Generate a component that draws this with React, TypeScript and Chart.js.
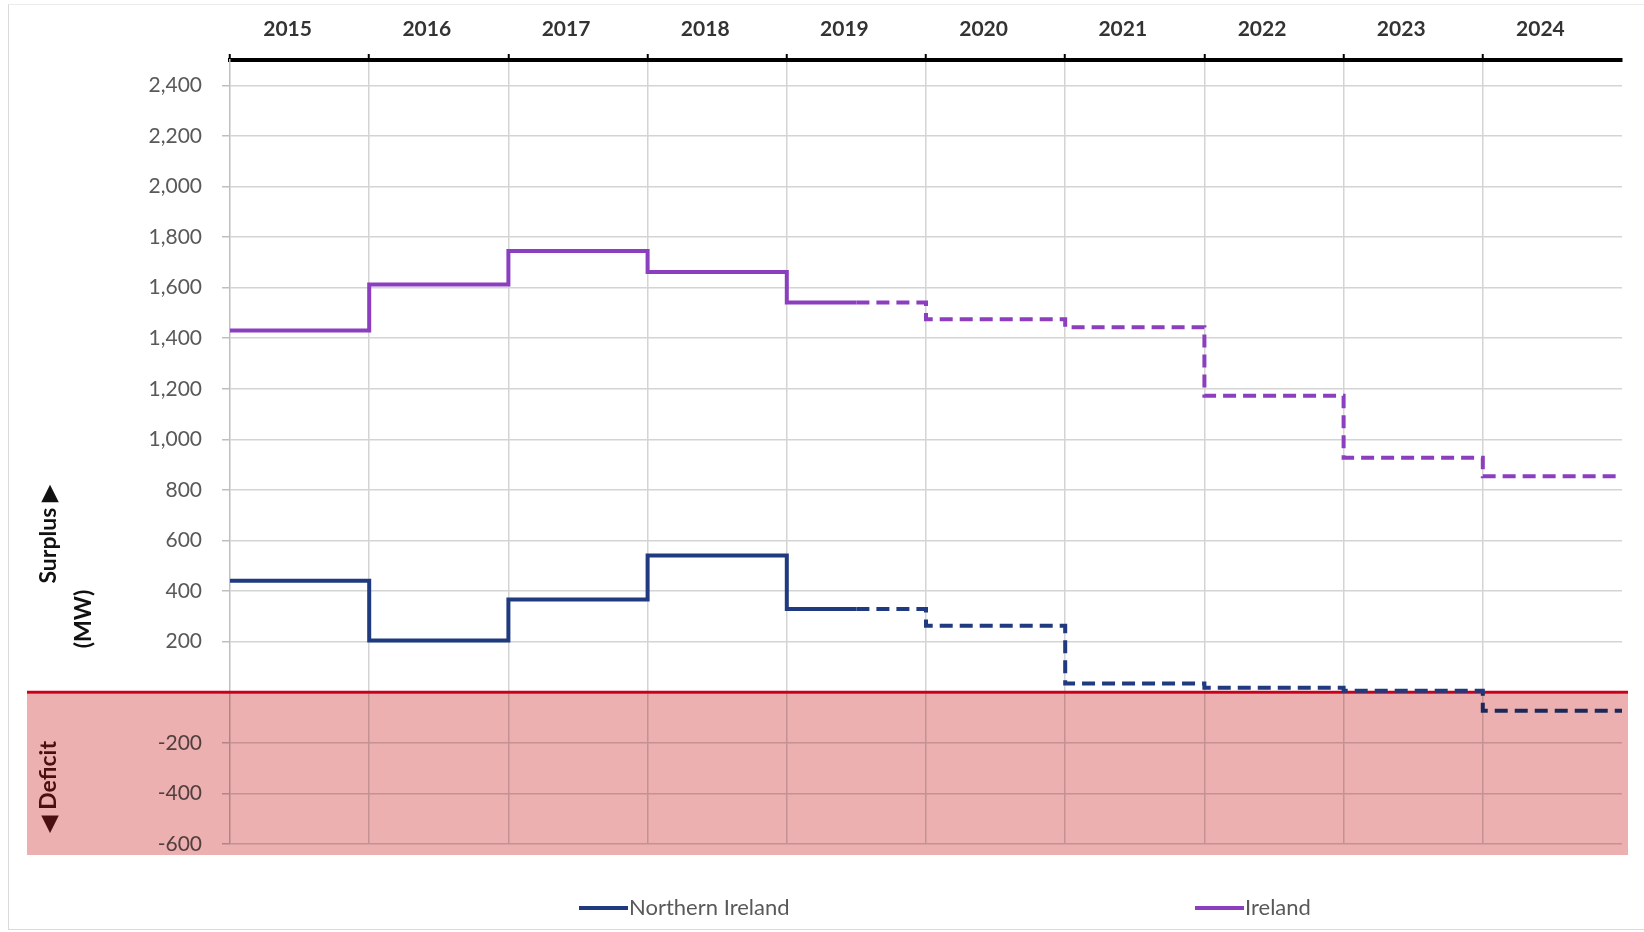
import React, { useEffect, useRef } from 'react';
import { Chart, registerables } from 'chart.js';

Chart.register(...registerables);

// ---- Data ----
const years = ['2015', '2016', '2017', '2018', '2019', '2020', '2021', '2022', '2023', '2024'];
const northernIrelandValues = [441, 205, 367, 541, 329, 263, 35, 18, 6, -73];
const irelandValues = [1430, 1612, 1745, 1662, 1541, 1475, 1443, 1172, 927, 854];
const seriesNames = ['Northern Ireland', 'Ireland'];
const forecastStart = 4.5; // forecast (dashed) from the middle of 2019
const yTickValues = [-600, -400, -200, 0, 200, 400, 600, 800, 1000, 1200, 1400, 1600, 1800, 2000, 2200, 2400];
const yMin = -600;
const yMax = 2500;

const FONT = 'Lato, "Open Sans", "DejaVu Sans", sans-serif';
const NI_COLOR = '#1f3a7f';
const IE_COLOR = '#8b3fbf';

function stepPoints(values: number[]) {
  const pts: { x: number; y: number }[] = [];
  values.forEach((v, i) => {
    pts.push({ x: i, y: v });
    if (i === Math.floor(forecastStart)) pts.push({ x: forecastStart, y: v });
  });
  pts.push({ x: values.length, y: values[values.length - 1] });
  return pts;
}

const deficitPlugin = {
  id: 'deficitZone',
  beforeDraw(chart: any) {
    const ctx = chart.ctx;
    ctx.save();
    ctx.fillStyle = '#ffffff';
    ctx.fillRect(0, 0, chart.width, chart.height);
    ctx.restore();
  },
  beforeDatasetsDraw(chart: any) {
    const ctx = chart.ctx;
    const y0 = chart.scales.y.getPixelForValue(0);
    ctx.save();
    ctx.strokeStyle = '#c8001a';
    ctx.lineWidth = 3;
    ctx.beginPath();
    ctx.moveTo(27, y0);
    ctx.lineTo(1628, y0);
    ctx.stroke();
    ctx.restore();
  },
  afterDatasetsDraw(chart: any) {
    const ctx = chart.ctx;
    const y0 = chart.scales.y.getPixelForValue(0);
    ctx.save();
    ctx.globalCompositeOperation = 'multiply';
    ctx.fillStyle = 'rgb(236,176,177)';
    ctx.fillRect(27, y0 + 1.5, 1628 - 27, 855 - y0 - 1.5);
    ctx.restore();
  },
  afterDraw(chart: any) {
    const ctx = chart.ctx;
    ctx.save();
    // Axis titles
    ctx.textAlign = 'center';
    ctx.textBaseline = 'middle';
    ctx.font = `bold 23px ${FONT}`;
    ctx.fillStyle = '#111111';
    ctx.save();
    ctx.translate(49, 534);
    ctx.rotate(-Math.PI / 2);
    ctx.fillText('Surplus ▶', 0, 0);
    ctx.restore();
    ctx.save();
    ctx.translate(84, 619);
    ctx.rotate(-Math.PI / 2);
    ctx.fillText('(MW)', 0, 0);
    ctx.restore();
    ctx.save();
    ctx.fillStyle = '#4a0f10';
    ctx.translate(49, 787);
    ctx.rotate(-Math.PI / 2);
    ctx.fillText('◀ Deficit', 0, 0);
    ctx.restore();

    // Legend
    const items = [
      { x: 579, ds: chart.data.datasets[0] },
      { x: 1195, ds: chart.data.datasets[1] },
    ];
    const ly = 908;
    items.forEach(({ x, ds }) => {
      ctx.strokeStyle = ds.borderColor;
      ctx.lineWidth = 4;
      ctx.beginPath();
      ctx.moveTo(x, ly);
      ctx.lineTo(x + 49, ly);
      ctx.stroke();
      ctx.fillStyle = '#595959';
      ctx.font = `22px ${FONT}`;
      ctx.textAlign = 'left';
      ctx.textBaseline = 'middle';
      ctx.fillText(ds.label, x + 50, ly);
    });
    ctx.restore();
  },
};

export default function App() {
  const canvasRef = useRef<HTMLCanvasElement | null>(null);

  useEffect(() => {
    const canvas = canvasRef.current;
    if (!canvas) return;
    const dashFn = (ctx: any) => (ctx.p0.parsed.x >= forecastStart ? [13, 7] : []);
    const chart = new Chart(canvas, {
      type: 'line',
      data: {
        datasets: [
          {
            label: seriesNames[0],
            data: stepPoints(northernIrelandValues),
            borderColor: NI_COLOR,
            backgroundColor: NI_COLOR,
            borderWidth: 4,
            stepped: 'before',
            pointRadius: 0,
            borderDash: [],
            segment: { borderDash: dashFn },
            xAxisID: 'x',
            yAxisID: 'y',
          },
          {
            label: seriesNames[1],
            data: stepPoints(irelandValues),
            borderColor: IE_COLOR,
            backgroundColor: IE_COLOR,
            borderWidth: 4,
            stepped: 'before',
            pointRadius: 0,
            borderDash: [],
            segment: { borderDash: dashFn },
            xAxisID: 'x',
            yAxisID: 'y',
          },
        ],
      },
      options: {
        animation: false,
        responsive: false,
        events: [],
        layout: { padding: { left: 0, top: 0, right: 22, bottom: 88 } },
        plugins: {
          legend: { display: false },
          tooltip: { enabled: false },
          title: { display: false },
        },
        scales: {
          x: {
            type: 'linear',
            position: 'top',
            min: 0,
            max: years.length,
            weight: 0,
            afterBuildTicks: (scale: any) => {
              scale.ticks = years.map((_, i) => ({ value: i })).concat([{ value: years.length }]);
            },
            afterFit: (scale: any) => {
              scale.height = 4;
            },
            ticks: { display: false },
            grid: {
              color: (c: any) =>
                c.tick && (c.tick.value === 0 || c.tick.value === years.length) ? 'rgba(0,0,0,0)' : '#d4d4d4',
              lineWidth: 1.5,
              drawTicks: true,
              tickLength: 6,
              tickWidth: 2,
              tickColor: (c: any) => (c.tick && c.tick.value === years.length ? 'rgba(0,0,0,0)' : '#000000'),
            },
            border: { display: true, color: '#000000', width: 4 },
          },
          xl: {
            type: 'category',
            labels: years,
            position: 'top',
            offset: true,
            weight: 1,
            afterFit: (scale: any) => {
              scale.height = 56;
            },
            grid: { display: false, drawTicks: false },
            border: { display: false },
            ticks: {
              color: '#333333',
              font: { family: FONT, size: 21, weight: 'bold' },
              padding: 14,
              labelOffset: -12,
              maxRotation: 0,
              autoSkip: false,
            },
          },
          y: {
            type: 'linear',
            min: yMin,
            max: yMax,
            afterBuildTicks: (scale: any) => {
              scale.ticks = yTickValues.map((v) => ({ value: v }));
            },
            afterFit: (scale: any) => {
              scale.width = 230;
            },
            ticks: {
              color: '#595959',
              font: { family: FONT, size: 21 },
              padding: 20,
              callback: (v: any) => (Number(v) === 0 ? '' : Number(v).toLocaleString('en-US')),
            },
            grid: {
              color: '#d4d4d4',
              lineWidth: 1.5,
              tickLength: 8,
              tickColor: '#bfbfbf',
            },
            border: { display: true, color: '#bfbfbf', width: 1.5 },
          },
        },
      },
      plugins: [deficitPlugin],
    } as any);
    return () => chart.destroy();
  }, []);

  return (
    <div style={{ position: 'absolute', left: 0, top: 0, width: 1644, height: 932, background: '#ffffff' }}>
      <canvas ref={canvasRef} width={1644} height={932} style={{ width: 1644, height: 932, display: 'block' }} />
      <div
        style={{
          position: 'absolute',
          left: 8,
          top: 4,
          width: 1636,
          height: 924,
          borderLeft: '1px solid #dadada',
          borderTop: '1px solid #ececec',
          borderBottom: '1px solid #dadada',
          pointerEvents: 'none',
        }}
      />
    </div>
  );
}
